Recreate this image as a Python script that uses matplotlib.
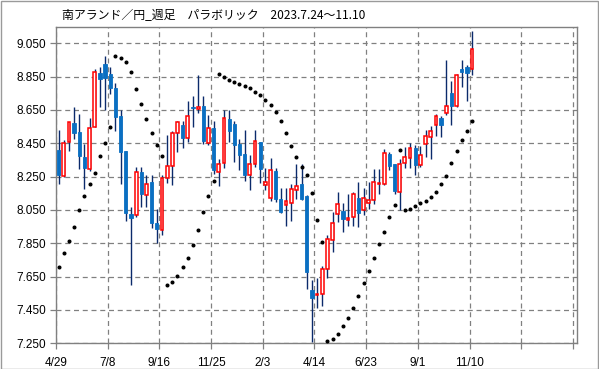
import matplotlib
matplotlib.use("Agg")
import matplotlib.pyplot as plt
from matplotlib.patches import Rectangle
import numpy as np

plt.rcParams['font.family'] = ['Noto Sans CJK JP', 'DejaVu Sans']

title = "南アランド／円_週足　パラボリック　2023.7.24～11.10"

opens = [8.408, 8.254, 8.460, 8.571, 8.516, 8.366, 8.296, 8.548, 8.871, 8.926,
         8.865, 8.781, 8.613, 8.402, 8.023, 8.019, 8.276, 8.139, 8.215, 7.969,
         7.929, 8.244, 8.316, 8.512, 8.557, 8.484, 8.667, 8.657, 8.671, 8.454,
         8.540, 8.280, 8.334, 8.595, 8.565, 8.448, 8.384, 8.260, 8.328, 8.456,
         8.199, 8.123, 8.286, 8.117, 8.079, 8.089, 8.169, 8.207, 8.135, 7.570,
         7.537, 7.545, 7.694, 7.870, 8.027, 8.041, 7.991, 8.009, 8.123, 8.049,
         8.093, 8.107, 8.203, 8.203, 8.384, 8.324, 8.159, 8.334, 8.364, 8.420,
         8.320, 8.448, 8.490, 8.557, 8.601, 8.631, 8.749, 8.671, 8.893, 8.907,
         8.895]
highs = [8.528, 8.470, 8.580, 8.667, 8.623, 8.448, 8.601, 8.898, 8.906, 8.972,
         8.906, 8.811, 8.647, 8.405, 8.069, 8.310, 8.310, 8.260, 8.260, 8.053,
         8.260, 8.502, 8.524, 8.581, 8.581, 8.701, 8.731, 8.861, 8.735, 8.621,
         8.581, 8.356, 8.649, 8.649, 8.581, 8.474, 8.528, 8.380, 8.528, 8.456,
         8.300, 8.364, 8.300, 8.179, 8.183, 8.205, 8.324, 8.324, 8.140, 7.628,
         7.642, 7.714, 7.899, 8.039, 8.155, 8.089, 8.145, 8.159, 8.215, 8.179,
         8.219, 8.294, 8.294, 8.416, 8.396, 8.324, 8.356, 8.430, 8.454, 8.440,
         8.436, 8.530, 8.555, 8.625, 8.615, 8.948, 8.821, 8.865, 8.948, 8.922,
         9.126]
lows = [8.205, 8.250, 8.404, 8.476, 8.298, 8.175, 8.284, 8.545, 8.669, 8.647,
        8.745, 8.524, 8.205, 7.983, 7.598, 8.007, 8.065, 8.065, 7.939, 7.852,
        7.899, 8.210, 8.199, 8.396, 8.424, 8.460, 8.550, 8.631, 8.448, 8.440,
        8.266, 8.195, 8.300, 8.460, 8.340, 8.290, 8.224, 8.169, 8.308, 8.210,
        8.170, 8.103, 8.095, 8.029, 7.953, 7.983, 8.115, 8.110, 7.578, 7.257,
        7.461, 7.473, 7.642, 7.798, 7.975, 7.919, 7.955, 7.955, 7.947, 8.019,
        8.055, 8.083, 8.145, 8.199, 8.290, 8.145, 8.049, 8.300, 8.300, 8.260,
        8.310, 8.370, 8.356, 8.496, 8.490, 8.617, 8.557, 8.665, 8.785, 8.701,
        8.857]
closes = [8.260, 8.454, 8.575, 8.514, 8.374, 8.302, 8.544, 8.875, 8.837, 8.841,
          8.781, 8.609, 8.398, 8.031, 7.999, 8.276, 8.145, 8.203, 7.969, 7.933,
          8.244, 8.316, 8.512, 8.575, 8.480, 8.611, 8.659, 8.665, 8.464, 8.540,
          8.290, 8.324, 8.599, 8.526, 8.440, 8.380, 8.260, 8.328, 8.466, 8.296,
          8.215, 8.290, 8.115, 8.039, 8.105, 8.177, 8.195, 8.115, 7.678, 7.521,
          7.545, 7.698, 7.874, 7.973, 8.085, 7.993, 8.003, 8.143, 8.029, 8.123,
          8.111, 8.215, 8.209, 8.394, 8.314, 8.163, 8.324, 8.366, 8.424, 8.320,
          8.380, 8.496, 8.524, 8.615, 8.557, 8.671, 8.671, 8.861, 8.879, 8.869,
          9.018]
sar = [7.708, 7.794, 7.864, 7.949, 8.051, 8.135, 8.207, 8.274, 8.376, 8.454,
       8.549, 8.972, 8.964, 8.936, 8.875, 8.773, 8.683, 8.593, 8.514, 8.442,
       8.376, 7.600, 7.616, 7.654, 7.708, 7.762, 7.840, 7.927, 8.039, 8.133,
       8.224, 8.863, 8.849, 8.831, 8.819, 8.807, 8.795, 8.783, 8.759, 8.737,
       8.711, 8.681, 8.635, 8.581, 8.512, 8.436, 8.370, 8.310, 8.260, 8.153,
       7.991, 7.858, 7.263, 7.277, 7.305, 7.355, 7.401, 7.461, 7.533, 7.612,
       7.684, 7.762, 7.846, 7.919, 8.009, 8.081, 8.412, 8.051, 8.057, 8.075,
       8.089, 8.105, 8.129, 8.159, 8.207, 8.252, 8.334, 8.406, 8.472, 8.526,
       8.581]

x_tick_labels = ["4/29", "7/8", "9/16", "11/25", "2/3", "4/14", "6/23", "9/1", "11/10", "", ""]
y_ticks = [7.25, 7.45, 7.65, 7.85, 8.05, 8.25, 8.45, 8.65, 8.85, 9.05]

W, H = 599, 369
fig = plt.figure(figsize=(W / 100, H / 100), dpi=100)
fig.patch.set_facecolor('white')
fig.patches.append(Rectangle((0.5 / W, 0.5 / H), (W - 1.5) / W, (H - 1.5) / H,
                             transform=fig.transFigure, fill=False,
                             edgecolor='#9a9a9a', linewidth=1.0))

ax = fig.add_axes([56 / W, 1 - 343.3 / H, (576.5 - 56) / W, (343.3 - 27) / H])
ax.set_facecolor('white')

n = len(opens)
x = np.arange(n)
o = np.array(opens); c = np.array(closes)
hi = np.array(highs); lo = np.array(lows)
up = c >= o
bw = 0.64

ax.vlines(x, lo, hi, color='#0b2a6b', linewidth=1.0, zorder=2)
bottoms = np.minimum(o, c)
heights = np.maximum(np.abs(c - o), 0.006)
ax.bar(x[~up], heights[~up], bottom=bottoms[~up], width=bw,
       color='#0a6fc2', edgecolor='#0a6fc2', linewidth=0.6, zorder=3)
ax.bar(x[up], heights[up], bottom=bottoms[up], width=bw - 0.1,
       facecolor='white', edgecolor='#ff0000', linewidth=1.1, zorder=3)

ax.plot(x, sar, linestyle='none', marker='o', markersize=1.9,
        color='black', zorder=4)

ax.set_xlim(-0.5, 100.2)
ax.set_ylim(7.25, 9.148)
xt = [-0.5 + 10 * k for k in range(len(x_tick_labels))]
ax.set_xticks(xt)
ax.set_xticklabels(x_tick_labels, fontsize=8.5, family=['Liberation Sans', 'DejaVu Sans'])
ax.set_yticks(y_ticks)
ax.set_yticklabels([f"{v:.3f}" for v in y_ticks], fontsize=8.5,
                   family=['Liberation Sans', 'DejaVu Sans'])
ax.grid(True, color='#808080', linestyle=(0, (4, 3)), linewidth=0.9)
ax.set_axisbelow(True)
for s in ax.spines.values():
    s.set_color('#808080')
    s.set_linewidth(1.0)
ax.tick_params(axis='both', direction='out', length=4, color='#808080', width=0.9,
               labelcolor='black')
ax.tick_params(axis='x', pad=6)
ax.tick_params(axis='y', pad=3)

fig.text(62 / W, 1 - 16 / H, title, fontsize=8.6, va='center', ha='left',
         family=['Noto Sans CJK JP', 'DejaVu Sans'])

fig.savefig('out.png', dpi=100)
